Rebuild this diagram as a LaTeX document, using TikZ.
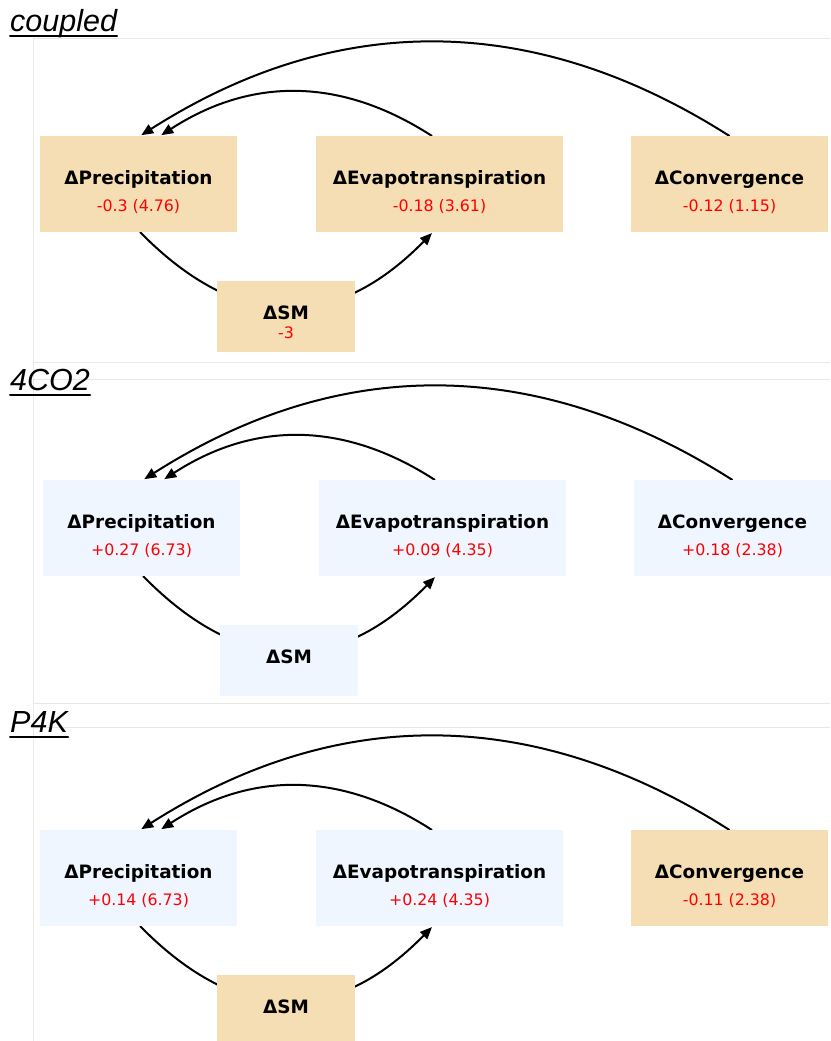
\documentclass[tikz,border=0pt]{standalone}
\usepackage{fontspec}
\setmainfont{DejaVu Sans}
\newfontfamily\ttlfont{Liberation Sans}
\usetikzlibrary{arrows.meta,backgrounds}
\definecolor{wheat}{RGB}{245,222,179}
\definecolor{pale}{RGB}{239,246,255}
\definecolor{rule}{RGB}{232,232,232}
\begin{document}
\begin{tikzpicture}[x=1pt,y=-1pt,line cap=round,>={Triangle[length=12pt,width=10pt]}]
\tikzset{box/.style={minimum width=197pt,minimum height=96pt,inner sep=0pt,outer sep=0pt},
    wide/.style={box,minimum width=247pt},
    sm/.style={box,minimum width=138pt,minimum height=71pt},
    head/.style={anchor=base,inner sep=0pt,font=\fontsize{18.4}{21}\selectfont\bfseries},
    num/.style={anchor=base,inner sep=0pt,text=red,font=\fontsize{15.8}{18}\selectfont},
    ttl/.style={anchor=base west,inner sep=0pt,font=\fontsize{30.5}{34}\selectfont\ttlfont\itshape},
    rim/.style={draw=rule,line width=0.8pt},
    link/.style={->,line width=2pt,shorten >=1.5pt}}

\useasboundingbox (0,0) rectangle (830,1041);
\draw[rim] (33,38) -- (33,1041);

\foreach \i/\dx/\dy/\ttl/\tb/\ft/\fb/\cP/\cE/\cC/\cS/\vP/\vE/\vC/\vS in {
    1/0/0/coupled/32/38/362/wheat/wheat/wheat/wheat/-0.3 (4.76)/-0.18 (3.61)/-0.12 (1.15)/-3,
    2/3/344/4CO2/390/379/703/pale/pale/pale/pale/+0.27 (6.73)/+0.09 (4.35)/+0.18 (2.38)/,
    3/0/694/P4K/732/727/1051/pale/pale/wheat/wheat/+0.14 (6.73)/+0.24 (4.35)/-0.11 (2.38)/}{
    \draw[rim] (33,\ft) -- (830,\ft) (33,\fb) -- (830,\fb);
    \node[ttl](T\i) at (10,\tb){\ttl};
    \draw[line width=2pt] ([yshift=-4.5pt]T\i.base west) -- ([yshift=-4.5pt]T\i.base east);

    \path (138.5+\dx,184+\dy) node[box,fill=\cP](P\i){}
          (439.5+\dx,184+\dy) node[wide,fill=\cE](E\i){}
          (729.5+\dx,184+\dy) node[box,fill=\cC](C\i){}
          (286+\dx,316.5+\dy) node[sm,fill=\cS](S\i){};
    \path ([yshift=-48pt]P\i.north) node[head](p\i){ΔPrecipitation}
          ([yshift=-75pt]P\i.north) node[num](pv\i){\vP}
          ([yshift=-48pt]E\i.north) node[head](e\i){ΔEvapotranspiration}
          ([yshift=-75pt]E\i.north) node[num](ev\i){\vE}
          ([yshift=-48pt]C\i.north) node[head](c\i){ΔConvergence}
          ([yshift=-75pt]C\i.north) node[num](cv\i){\vC}
          ([yshift=-38pt]S\i.north) node[head](s\i){ΔSM};
    \ifx\vS\empty\else
        \path ([yshift=-57pt]S\i.north) node[num](sv\i){\vS};
    \fi

    \begin{scope}[on background layer]
        \draw[link] ([xshift=-7.5pt]E\i.north) .. controls +(-91,-59) and +(91,-59) .. ([xshift=21.5pt]P\i.north);
        \draw[link] (C\i.north) .. controls +(-196,-125) and +(196,-125) .. ([xshift=1.5pt]P\i.north);
        \draw[link] ([xshift=1.5pt]P\i.south) .. controls +(98,100) and +(-98,100) .. ([xshift=-6.5pt]E\i.south);
    \end{scope}
}
\end{tikzpicture}
\end{document}
